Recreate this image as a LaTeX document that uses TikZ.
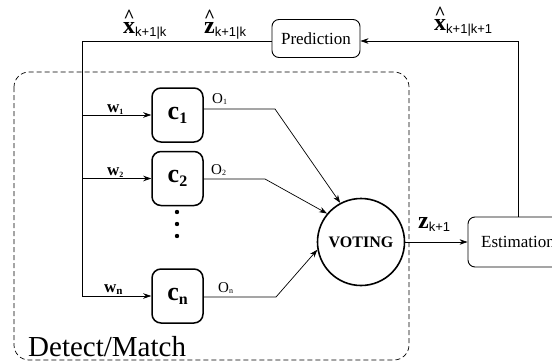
\documentclass[tikz,border=0pt]{standalone}
\usepackage{fontspec}
\setmainfont{Liberation Serif}
\setsansfont{Liberation Sans}
\usetikzlibrary{arrows.meta}
\newcommand\fs[1]{\fontsize{#1}{#1}\selectfont}
\newcommand\hb[1]{\setbox0\hbox{\textbf{#1}}\rlap{\hbox to \wd0{\hss\raisebox{11pt}{\fs{19}\textbf{\textasciicircum}}\hss}}\box0}
\newcommand\subs[1]{\raisebox{-3.5pt}{\fs{13}\sffamily #1}}
\begin{document}
\begin{tikzpicture}[x=1pt,y=-1pt,
  ln/.style={line width=0.7pt},
  arr/.style={ln,-{Stealth[length=8pt,width=5.5pt]}},
  pbox/.style={draw,line width=0.9pt,rounded corners=7pt,inner sep=0pt,font=\fs{17}},
  cbox/.style={draw,line width=1.5pt,rounded corners=9pt,minimum width=51pt,minimum height=54pt,inner sep=0pt},
  lbl/.style={anchor=base west,inner sep=0pt}]
\useasboundingbox (0,0) rectangle (552,362);
% dashed region
\draw[ln,dash pattern=on 5pt off 3pt,rounded corners=15pt] (14,72) rectangle (409,360);
\node[lbl,font=\fs{29}] (dm) at (28,356) {Detect/Match};
% boxes
\node[pbox,minimum width=88pt,minimum height=38pt] (pred) at (316,38.5) {Prediction};
\node[pbox,minimum width=100pt,minimum height=50pt] (est) at (518,242) {Estimation};
\node[circle,draw,line width=1.6pt,minimum size=87pt,inner sep=0pt,font=\fs{16}\bfseries] (vote) at (361,242) {VOTING};
\node[cbox] (c1) at (177.5,115) {\fs{26}\textbf{c}\raisebox{-4pt}{\fs{16}\textbf{1}}};
\node[cbox] (c2) at (177.5,178.5) {\fs{26}\textbf{c}\raisebox{-4pt}{\fs{16}\textbf{2}}};
\node[cbox] (cn) at (177.5,296) {\fs{26}\textbf{c}\raisebox{-4pt}{\fs{16}\textbf{n}}};
% dots
\foreach \yy/\nm in {212/d1,224/d2,236/d3}
  \fill (177,\yy) circle (2.2pt) coordinate (\nm);
% feedback loop
\coordinate (top) at (82,41);
\coordinate (j1) at (82,115);
\coordinate (j2) at (82,178.5);
\coordinate (jn) at (82,296);
\draw[ln] ([yshift=-2.5pt]pred.west) -- (top) -- (jn);
\draw[arr] (j1) -- (c1.west);
\draw[arr] (j2) -- (c2.west);
\draw[arr] (jn) -- (cn.west);
\draw[arr] (est.north) |- ([yshift=-2.5pt]pred.east);
% outputs
\coordinate (b1) at (275,109);
\coordinate (b2) at (265,179);
\coordinate (bn) at (276,297);
\draw[arr] (c1.east |- b1) -- (b1) -- (vote.118);
\draw[arr] (c2.east |- b2) -- (b2) -- (vote.140);
\draw[arr] (cn.east |- bn) -- (bn) -- (vote.190);
\draw[arr] (vote.east) -- (est.west);
% labels
\node[lbl,font=\fs{24}] (lx1) at (123,33) {\hb{x}\subs{k+1|k}};
\node[lbl,font=\fs{24}] (lz1) at (204,33) {\hb{z}\subs{k+1|k}};
\node[lbl,font=\fs{24}] (lx2) at (434,30) {\hb{x}\subs{k+1|k+1}};
\node[lbl,font=\fs{24}] (lz2) at (418,228) {\textbf{z}\subs{k+1}};
\node[lbl,font=\fs{17}] (w1) at (107,112) {\textbf{w}\raisebox{-2pt}{\fs{8}\textbf{1}}};
\node[lbl,font=\fs{17}] (w2) at (107,175) {\textbf{w}\raisebox{-2pt}{\fs{8}\textbf{2}}};
\node[lbl,font=\fs{17}] (wn) at (104,292) {\textbf{w}\raisebox{-2pt}{\fs{11}\textbf{n}}};
\node[lbl,font=\fs{15}] (o1) at (212,103) {O\raisebox{-1.5pt}{\fs{8}1}};
\node[lbl,font=\fs{15}] (o2) at (211,174) {O\raisebox{-1.5pt}{\fs{8}2}};
\node[lbl,font=\fs{15}] (on) at (218,292) {O\raisebox{-1.5pt}{\fs{8}n}};
\end{tikzpicture}
\end{document}
